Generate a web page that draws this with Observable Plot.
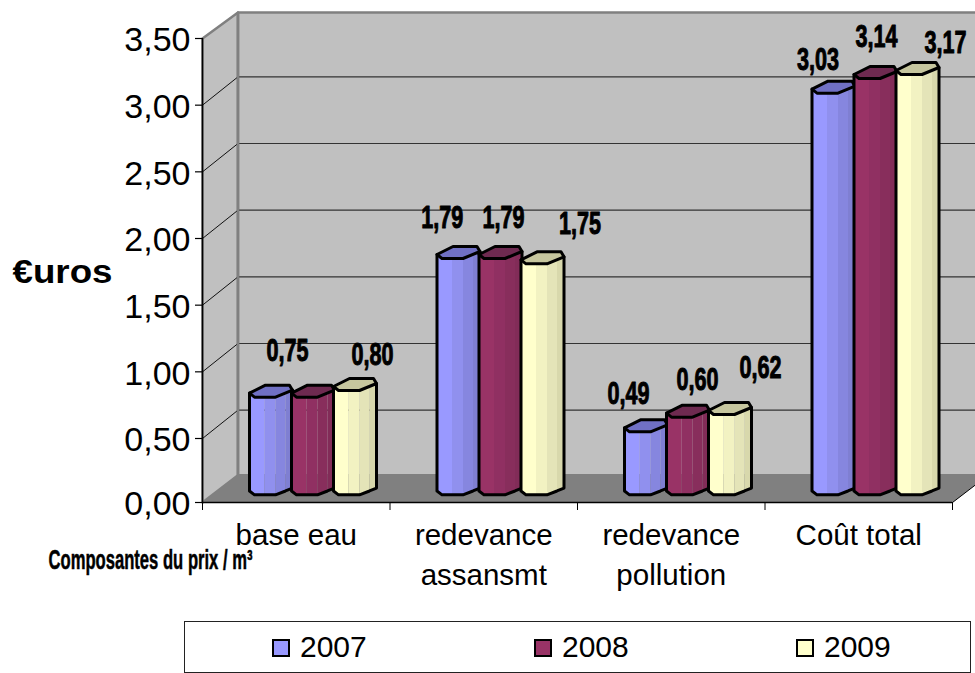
<!DOCTYPE html>
<html><head><meta charset="utf-8">
<style>
html,body{margin:0;padding:0;background:#fff;overflow:hidden;width:975px;height:673px}
svg{display:block}
#legend{position:absolute;left:184px;top:621px;width:785px;height:50px;border:1px solid #222;font:30px "Liberation Sans",Arial,sans-serif;color:#000}
#legend .i{position:absolute;top:0;height:50px;line-height:50px;white-space:nowrap}
#legend .s{position:absolute;left:0;top:17px;width:14px;height:14px;border:2px solid #000}
#legend .t{position:absolute;left:28px;top:0}
</style>
<script src="https://cdn.jsdelivr.net/npm/d3@7"></script>
<script src="https://cdn.jsdelivr.net/npm/@observablehq/plot@0.6"></script>
</head><body>
<script>
const categories = ["base eau", "redevance\nassansmt", "redevance\npollution", "Coût total"];
const years = ["2007", "2008", "2009"];
const v2007 = [0.75, 1.79, 0.49, 3.03];
const v2008 = [0.75, 1.79, 0.60, 3.14];
const v2009 = [0.80, 1.75, 0.62, 3.17];
const yTicks = [0, 0.5, 1, 1.5, 2, 2.5, 3, 3.5];
const yTickLabels = ["0,00", "0,50", "1,00", "1,50", "2,00", "2,50", "3,00", "3,50"];
const xBounds = [0, 1, 2, 3, 4];

const blues = ["#9999FF", "#9090EE", "#8686DF", "#7F7FD2", "#7070C4"];
const reds = ["#993366", "#903062", "#882E5C", "#822C58", "#6E2A50"];
const yellows = ["#FFFFCC", "#F2F2C2", "#E4E4B8", "#D8D8AC", "#C6C69E"];
const palettes = [blues, reds, yellows];
const series = [v2007, v2008, v2009];

// unit conversions of the pseudo-3D projection
const W = 187.5, H = 133.33;
const px = d => d / W, py = d => d / H;
const depthX = px(35.5), depthY = 0.2125, topDepth = py(26);
const barDX = px(47), barStep = px(42), baseY = 0.06;
const xAt = d3.scaleLinear([202, 952], [0, 4]);
const yAt = d3.scaleLinear([502, 438, 38], [0, 0.5, 3.5]);

const contour = [[0,-4],[5,0],[15,0],[26,0],[36,-4],[43,-7]];
const strips = [[0,1,2],[2,3],[3,4],[4,5]];
const capBack = [[43,-7],[40,-12],[16,-12],[0,-4]];
const capFront = [[0,-4],[5,0],[26,0],[43,-7]];

const poly = (pts, o) => Plot.line(pts, {x:"x", y:"y", ...o});
const P = (x, y) => ({x, y});

const marks = [];
// left wall, back wall, floor
marks.push(poly([P(0,0),P(depthX,depthY),P(depthX,3.5+topDepth),P(0,3.5),P(0,0)],
  {fill:"#C0C0C0", stroke:"#808080", strokeWidth:2.5}));
marks.push(poly([P(depthX,depthY),P(4.3,depthY),P(4.3,3.5+topDepth),P(depthX,3.5+topDepth),P(depthX,depthY)],
  {fill:"#C0C0C0", stroke:"#808080", strokeWidth:2.5}));
marks.push(poly([P(0,0),P(depthX,depthY),P(4+depthX,depthY),P(4,0),P(0,0)],
  {fill:"#808080", stroke:"none"}));
// gridlines
const inner = yTicks.slice(1, -1);
marks.push(Plot.link(inner, {x1:()=>depthX, x2:()=>4.3, y1:d=>d+depthY, y2:d=>d+depthY, stroke:"#333", strokeWidth:1.1}));
marks.push(Plot.link(inner, {x1:()=>0, x2:()=>depthX, y1:d=>d, y2:d=>d+depthY, stroke:"#111", strokeWidth:1}));
// back corner edge on top of the grid start
marks.push(Plot.link([0], {x1:()=>depthX, x2:()=>depthX, y1:()=>depthY, y2:()=>3.5+topDepth, stroke:"#808080", strokeWidth:2.5}));
// right floor diagonal
marks.push(Plot.link([0], {x1:()=>4, x2:()=>4+depthX, y1:()=>0, y2:()=>depthY, stroke:"#000", strokeWidth:1}));
// axis lines
marks.push(Plot.ruleX([0], {y1:0, y2:3.5, stroke:"#000", strokeWidth:1.5}));
marks.push(Plot.ruleY([0], {x1:0, x2:4, stroke:"#000", strokeWidth:1.5}));
marks.push(Plot.ruleX(xBounds, {y1:0, y2:yAt(510), stroke:"#000", strokeWidth:1}));

// cylinders
categories.forEach((_, g) => {
  series.forEach((vals, s) => {
    const v = vals[g], pal = palettes[s];
    const x0 = g + barDX + s * barStep;
    const X = d => x0 + px(d);
    const top = d => v + baseY - py(d);
    const bot = d => baseY - py(d);
    const T = ([dx,dy]) => P(X(dx), top(dy));
    const B = ([dx,dy]) => P(X(dx), bot(dy));
    strips.forEach((idx, k) => {
      const c = idx.map(i => contour[i]);
      marks.push(poly(c.map(T).concat(c.slice().reverse().map(B)), {fill:pal[k], stroke:"none"}));
    });
    marks.push(poly(capBack.concat(capFront).map(T), {fill:pal[4], stroke:"none"}));
    const outline = contour.map(B).concat(capBack.map(T), [B(contour[0])]);
    const style = {fill:"none", stroke:"#000", strokeWidth:3, strokeLinejoin:"round"};
    marks.push(poly(outline, style));
    marks.push(poly(capFront.map(T), style));
  });
});

// manually placed value labels, as in the reference [series, group, dx, dy]
const labelNudges = [
  [1,0,-25,-45.7],[2,0,18,-35],
  [0,1,-15.8,-40],[1,1,3.5,-40],[2,1,38,-39.3],
  [0,2,-17,-37.3],[1,2,10,-36.7],[2,2,31,-46],
  [0,3,-15,-32.6],[1,3,1.5,-41],[2,3,28.5,-31]
];
const fmt = v => v.toFixed(2).replace(".", ",");
marks.push(Plot.text(labelNudges, {
  x: ([s,g,dx]) => g + barDX + s*barStep + px(21 + dx),
  y: ([s,g,,dy]) => series[s][g] + baseY - py(dy),
  text: ([s,g]) => fmt(series[s][g]),
  className: "vlabel",
  fontFamily: "'Liberation Sans',sans-serif",
  fontWeight: "bold", fontSize: 31, fill:"#000", stroke:"#000", strokeWidth:1
}));

// axes
marks.push(Plot.axisY({ticks: yTicks, tickFormat: () => "", tickSize: 7, stroke:"#000", strokeWidth:1.2, label:null}));
marks.push(Plot.text(yTicks, {y:d=>d, text:(d,i)=>yTickLabels[i], frameAnchor:"left", textAnchor:"end", dx:-12, dy:2,
  fontSize: 34, fontFamily:"'Liberation Sans',Arial,sans-serif", fill:"#000"}));
marks.push(Plot.axisX({ticks: [0.5,1.5,2.5,3.5], tickFormat: d => categories[Math.floor(d)], tickSize: 0, tickPadding: 14,
  fontSize: 29.5, fontFamily:"'Liberation Sans',Arial,sans-serif", fill:"#000", lineHeight:1.356, lineAnchor:"top", label:null}));

// axis titles
marks.push(Plot.text(["€uros"], {x:()=>xAt(62), y:()=>yAt(272), className:"euros",
  fontFamily:"'Liberation Sans',Arial,sans-serif", fontWeight:"bold", fontSize:33, fill:"#000"}));
marks.push(Plot.text(["Composantes du prix / m³"], {x:()=>xAt(150), y:()=>yAt(560), className:"xtitle",
  fontFamily:"'Liberation Sans',sans-serif", fontWeight:"bold", fontSize:27, fill:"#000", stroke:"#000", strokeWidth:0.5}));

const chart = Plot.plot({
  width: 975, height: 620,
  marginLeft: 202, marginRight: 23, marginTop: 38, marginBottom: 118,
  style: {background:"#fff", overflow:"hidden"},
  x: {type:"linear", domain:[0,4]},
  y: {type:"linear", domain:[0,0.5,3.5], range:[502,438,38]},
  marks
});
document.body.appendChild(chart);

// squeeze the heavy condensed lettering to its drawn width
const squeeze = (sel, len) => chart.querySelectorAll(sel).forEach(t => {
  t.setAttribute("textLength", len);
  t.setAttribute("lengthAdjust", "spacingAndGlyphs");
});
squeeze(".vlabel text", 42);
squeeze(".xtitle text", 204);
squeeze(".euros text", 100);

const legend = document.createElement("div");
legend.id = "legend";
const legendLeft = [87, 349, 611];
years.forEach((yr, i) => {
  const it = document.createElement("div");
  it.className = "i"; it.style.left = legendLeft[i] + "px";
  it.innerHTML = `<span class="s" style="background:${palettes[i][0]}"></span><span class="t">${yr}</span>`;
  legend.appendChild(it);
});
document.body.appendChild(legend);
</script>
</body></html>
